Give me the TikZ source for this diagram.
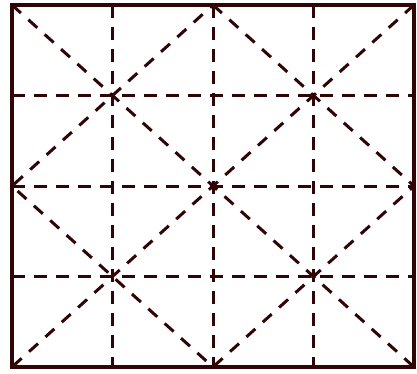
\documentclass[tikz,border=0pt]{standalone}
\usepackage{xcolor}
\usepackage{tikz}
\usetikzlibrary{
  calc
}
\definecolor{FrameBrown}{HTML}{300505}
\tikzset{
  frame/.style={
    draw=FrameBrown,
    line width=4.5pt
  },
  gridline/.style={
    draw=FrameBrown,
    line width=3pt,
    dash pattern=on 13pt off 9pt
  },
  diagline/.style={
    draw=FrameBrown,
    line width=3pt,
    dash pattern=on 12pt off 10pt
  }
}

\begin{document}
\begin{tikzpicture}[x=1pt,y=-1pt]

  \useasboundingbox[fill=white] (0,0) rectangle (417,374);

  \coordinate (nw) at (12,5);
  \coordinate (ne) at (414,5);
  \coordinate (se) at (414,367);
  \coordinate (sw) at (12,367);
  \coordinate (n) at ($(nw)!0.5!(ne)$);
  \coordinate (e) at ($(ne)!0.5!(se)$);
  \coordinate (s) at ($(sw)!0.5!(se)$);
  \coordinate (w) at ($(nw)!0.5!(sw)$);

  \foreach \t in {0.25,0.5,0.75} {
    \draw[gridline]
    ($(nw)!\t!(ne)$) --
    ($(sw)!\t!(se)$);
    \draw[gridline]
    ($(nw)!\t!(sw)$) --
    ($(ne)!\t!(se)$);
  }

  \draw[diagline] (nw) -- (se);
  \draw[diagline] (ne) -- (sw);

  \draw[diagline] (n) -- (e) -- (s) -- (w) -- cycle;

  \draw[frame] (nw) rectangle (se);

\end{tikzpicture}
\end{document}
